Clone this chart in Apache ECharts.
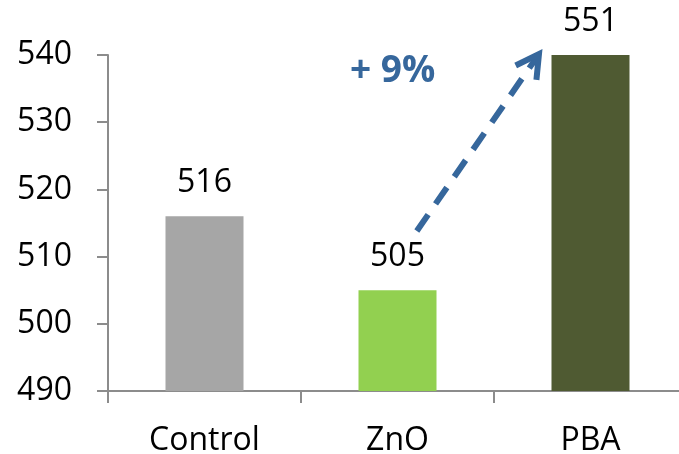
<!DOCTYPE html>
<html>
<head>
<meta charset="utf-8">
<script src="https://cdn.jsdelivr.net/npm/echarts@6/dist/echarts.min.js"></script>
<style>
  html, body { margin: 0; padding: 0; background: #ffffff; }
  #chart { width: 679px; height: 454px; }
</style>
</head>
<body>
<div id="chart"></div>
<script>
// Treatment groups and their measured values
const categories = ['Control', 'ZnO', 'PBA'];
const values = [516, 505, 551];
const barColors = ['#a6a6a6', '#92d050', '#4f5a32'];

// Value axis range
const yMin = 490;
const yMax = 540;
const yStep = 10;

// Increase annotation (category position, value) and its caption
const arrowFrom = [1.10, 513.8];
const arrowTo = [1.733, 540.15];
const increaseText = '+ 9%';
const increaseAnchor = [0.754, 537.6];

const FONT = '"Open Sans", "Liberation Sans", sans-serif';
const AXIS_GREY = '#8c8c8c';
const BLUE = '#36679c';

const chart = echarts.init(document.getElementById('chart'), null, { renderer: 'canvas' });

chart.setOption({
  animation: false,
  backgroundColor: '#ffffff',
  grid: { left: 108, top: 55, width: 579, height: 336, containLabel: false, outerBoundsMode: 'none' },
  xAxis: {
    type: 'category',
    data: categories,
    boundaryGap: true,
    axisLine: { lineStyle: { color: AXIS_GREY, width: 2 } },
    axisTick: { show: true, inside: false, length: 12, alignWithLabel: false,
                lineStyle: { color: AXIS_GREY, width: 2 } },
    axisLabel: { color: '#000000', fontFamily: FONT, fontSize: 32, margin: 34 },
    splitLine: { show: false }
  },
  yAxis: {
    type: 'value',
    min: yMin,
    max: yMax,
    interval: yStep,
    axisLine: { show: true, lineStyle: { color: AXIS_GREY, width: 2 } },
    axisTick: { show: true, inside: false, length: 11,
                lineStyle: { color: AXIS_GREY, width: 2 } },
    axisLabel: { color: '#000000', fontFamily: FONT, fontSize: 32, margin: 36 },
    splitLine: { show: false }
  },
  series: [{
    type: 'bar',
    barWidth: 78,
    clip: true,
    data: values.map((v, i) => ({ value: v, itemStyle: { color: barColors[i] } })),
    label: {
      show: true,
      position: 'top',
      distance: 17,
      color: '#000000',
      fontFamily: FONT,
      fontSize: 32
    }
  }]
});

// Map a (fractional category position, value) pair to pixels via the axes
function toPixel(pt) {
  const i0 = Math.floor(pt[0]);
  const a = chart.convertToPixel({ gridIndex: 0 }, [i0, pt[1]]);
  const b = chart.convertToPixel({ gridIndex: 0 }, [i0 + 1, pt[1]]);
  return [a[0] + (b[0] - a[0]) * (pt[0] - i0), a[1]];
}

const p0 = toPixel(arrowFrom);
const p1 = toPixel(arrowTo);
const dx = p1[0] - p0[0], dy = p1[1] - p0[1];
const len = Math.sqrt(dx * dx + dy * dy);
const ux = dx / len, uy = dy / len;
const headLen = 26, headAng = 29 * Math.PI / 180;
function rot(x, y, a) { return [x * Math.cos(a) - y * Math.sin(a), x * Math.sin(a) + y * Math.cos(a)]; }
const w1 = rot(-ux, -uy, headAng), w2 = rot(-ux, -uy, -headAng);
const shaftEnd = [p1[0] - ux * 3, p1[1] - uy * 3];
const tp = toPixel(increaseAnchor);

chart.setOption({
  graphic: [
    {
      type: 'polyline',
      shape: { points: [p0, shaftEnd] },
      style: { stroke: BLUE, lineWidth: 6, lineDash: [20, 13], lineCap: 'butt', fill: null },
      z: 10
    },
    {
      type: 'polyline',
      shape: { points: [
        [p1[0] + w1[0] * headLen, p1[1] + w1[1] * headLen],
        p1,
        [p1[0] + w2[0] * headLen, p1[1] + w2[1] * headLen]
      ] },
      style: { stroke: BLUE, lineWidth: 6, lineJoin: 'miter', lineCap: 'butt', fill: null },
      z: 10
    },
    {
      type: 'text',
      x: tp[0],
      y: tp[1],
      style: {
        text: increaseText,
        fill: BLUE,
        font: 'bold 37px ' + FONT,
        align: 'left',
        verticalAlign: 'middle'
      },
      z: 10
    }
  ]
});
</script>
</body>
</html>
